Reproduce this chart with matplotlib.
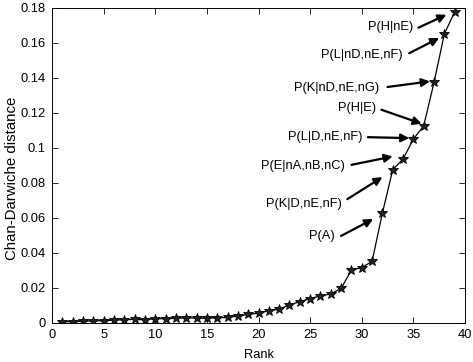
import numpy as np
import matplotlib
matplotlib.use("Agg")
import matplotlib.pyplot as plt
from matplotlib.ticker import FuncFormatter

plt.rcParams["font.family"] = ["Liberation Sans", "DejaVu Sans"]

# Ranked Chan-Darwiche distances.
rank = np.arange(1, 40)
distance = [
    0.0006, 0.0006, 0.0008, 0.0011, 0.0011, 0.0015, 0.0017, 0.0019, 0.0017, 0.0023,
    0.0023, 0.0025, 0.0028, 0.0026, 0.0026, 0.0028, 0.0030, 0.0038, 0.0047, 0.0055,
    0.0068, 0.0077, 0.0102, 0.0120, 0.0138, 0.0153, 0.0164, 0.0196, 0.0300, 0.0315,
    0.0350, 0.0626, 0.0874, 0.0935, 0.1049, 0.1125, 0.1373, 0.1650, 0.1776,
]

# Labels: right edge of text (x, y), arrow tail and arrow tip, in data units.
labels = [
    "P(H|nE)", "P(L|nD,nE,nF)", "P(K|nD,nE,nG)", "P(H|E)",
    "P(L|D,nE,nF)", "P(E|nA,nB,nC)", "P(K|D,nE,nF)", "P(A)",
]
label_xy = [
    (35.0, 0.1690), (33.95, 0.1530), (31.7, 0.1340), (31.4, 0.1227),
    (30.05, 0.1062), (28.4, 0.0895), (28.1, 0.0680), (27.4, 0.0494),
]
tail_xy = [
    (35.5, 0.1686), (34.6, 0.1540), (32.5, 0.1347), (31.9, 0.1217),
    (30.6, 0.1060), (29.0, 0.0902), (28.6, 0.0706), (28.0, 0.0496),
]
tip_xy = [
    (38.2, 0.1760), (37.5, 0.1627), (36.6, 0.1379), (35.8, 0.1137),
    (34.6, 0.1055), (33.0, 0.0950), (32.0, 0.0832), (31.1, 0.0592),
]

fig = plt.figure(figsize=(4.73, 3.62), dpi=100)
ax = fig.add_axes([52 / 473, 1 - 322.7 / 362, (465 - 52) / 473, (322.7 - 7.7) / 362])

ax.plot(rank, distance, color="black", linewidth=0.9, marker="*",
        markersize=7, markerfacecolor="#222222", markeredgecolor="black",
        markeredgewidth=0.6)

for lab, (lx, ly), (tx, ty), (px, py) in zip(labels, label_xy, tail_xy, tip_xy):
    ax.text(lx, ly, lab, ha="right", va="center", fontsize=9.3)
    ax.annotate("", xy=(px, py), xytext=(tx, ty),
                arrowprops=dict(arrowstyle="-|>", color="black", lw=1.6,
                                mutation_scale=12, shrinkA=0, shrinkB=0))

ax.set_xlim(0, 40)
ax.set_ylim(0, 0.18)
ax.set_xticks(np.arange(0, 41, 5))
ax.set_yticks(np.arange(0, 0.181, 0.02))
ax.yaxis.set_major_formatter(FuncFormatter(lambda v, p: f"{v:.2f}".rstrip("0").rstrip(".") if v else "0"))
ax.tick_params(direction="in", top=True, right=True, labelsize=9.3, length=4, width=0.6, pad=4.5)
for s in ax.spines.values():
    s.set_linewidth(0.7)
ax.set_xlabel("Rank", fontsize=9.3)
ax.xaxis.set_label_coords(0.5, -(349 - 322.7) / 315)
ax.set_ylabel("Chan-Darwiche distance", fontsize=10.8)
ax.yaxis.set_label_coords(-(52 - 19) / 413, (322.7 - 178) / 315)

fig.savefig("out.png", dpi=100)
